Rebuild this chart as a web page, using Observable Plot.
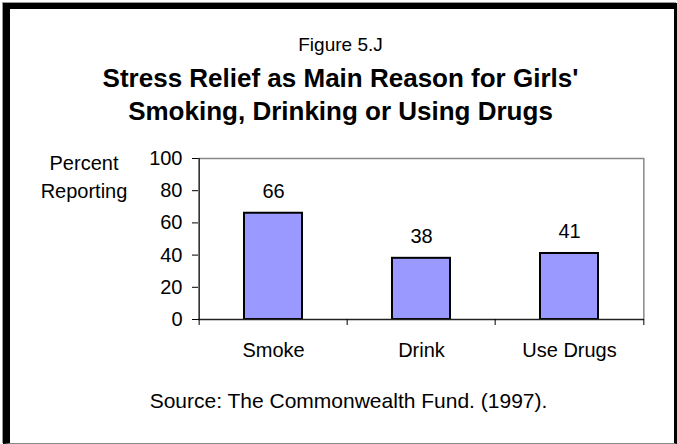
<!DOCTYPE html>
<html>
<head>
<meta charset="utf-8">
<script src="https://cdn.jsdelivr.net/npm/d3@7"></script>
<script src="https://cdn.jsdelivr.net/npm/@observablehq/plot@0.6"></script>
<style>
  html, body { margin: 0; padding: 0; background: #fff; }
  #wrap { position: relative; width: 677px; height: 444px; overflow: hidden; font-family: "Liberation Sans", Arial, sans-serif; color: #000; background: #fff; }
  #frame { position: absolute; left: 3px; top: 3px; width: 674px; height: 441px; box-sizing: border-box;
           border-left: 7px solid #000; border-top: 6px solid #000; border-right: 3px solid #000; border-bottom: 1px solid #888;
           box-shadow: -1px -1px 0 #999; }
  .t { position: absolute; left: 0; width: 677px; text-align: center; white-space: nowrap; }
  #fig { top: 34px; font-size: 19px; left: 2px; }
  #title { top: 62px; font-size: 26px; font-weight: bold; line-height: 33px; left: 2px; }
  #src { top: 389px; font-size: 21px; left: 10px; }
  .yl { position: absolute; width: 120px; text-align: center; font-size: 20px; left: 24px; }
  #chart { position: absolute; left: 0; top: 140px; }
</style>
</head>
<body>
<div id="wrap">
  <div id="frame"></div>
  <div class="t" id="fig">Figure 5.J</div>
  <div class="t" id="title">Stress Relief as Main Reason for Girls'<br>Smoking, Drinking or Using Drugs</div>
  <div class="yl" style="top:152px">Percent</div>
  <div class="yl" style="top:180px">Reporting</div>
  <div id="chart"></div>
  <div class="t" id="src">Source: The Commonwealth Fund. (1997).</div>
</div>
<script>
const categories = ["Smoke", "Drink", "Use Drugs"];
const values = [66, 38, 41];
const yTicks = [0, 20, 40, 60, 80, 100];

const data = categories.map((c, i) => ({category: c, value: values[i]}));

const W = 677, H = 230;
const mL = 198, mR = 33, mT = 18, mB = 51;
const bw = (W - mL - mR) / categories.length;

const chart = Plot.plot({
  width: W,
  height: H,
  marginLeft: mL,
  marginRight: mR,
  marginTop: mT,
  marginBottom: mB,
  style: {fontFamily: "Liberation Sans, Arial, sans-serif", fontSize: "20px", color: "#000", background: "transparent"},
  x: {domain: categories, padding: 0, label: null},
  y: {domain: [0, 100], label: null},
  marks: [
    Plot.ruleY([100], {stroke: "#888", strokeWidth: 1.5}),
    Plot.ruleX([categories[categories.length - 1]], {dx: bw / 2, stroke: "#888", strokeWidth: 1.5}),
    Plot.barY(data, {x: "category", y: "value", fill: "#9999FF", stroke: "#000", strokeWidth: 2, insetLeft: 45, insetRight: 45}),
    Plot.text(data, {x: "category", y: "value", text: d => String(d.value), dy: -22, fontSize: 20, fill: "#000"}),
    Plot.ruleX([categories[0]], {dx: -bw / 2, stroke: "#222", strokeWidth: 1.5}),
    Plot.ruleY([0], {stroke: "#222", strokeWidth: 1.5}),
    Plot.axisY({ticks: yTicks, tickSize: 6, tickPadding: 10, fontSize: 20, label: null, stroke: "#000"}),
    Plot.axisX({ticks: categories, tickSize: 6, tickFormat: () => "", dx: -bw / 2, label: null, stroke: "#000"}),
    Plot.axisX({ticks: [categories[categories.length - 1]], tickSize: 6, tickFormat: () => "", dx: bw / 2, label: null, stroke: "#000"}),
    Plot.axisX({ticks: categories, tickSize: 0, tickPadding: 23, fontSize: 20, label: null})
  ]
});
document.getElementById("chart").appendChild(chart);
</script>
</body>
</html>
